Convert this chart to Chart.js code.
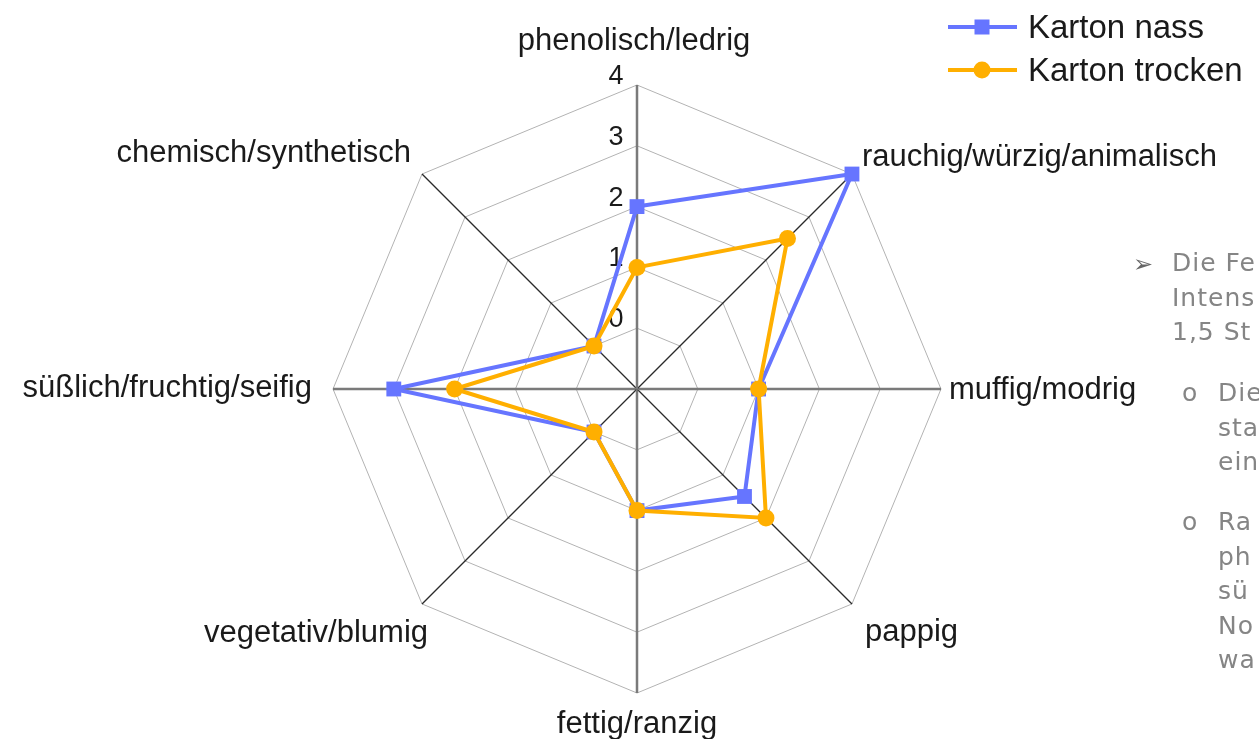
<!DOCTYPE html>
<html>
<head>
<meta charset="utf-8">
<title>Karton nass / trocken</title>
<script src="https://cdn.jsdelivr.net/npm/chart.js@4.4.1/dist/chart.umd.min.js"></script>
<style>
  body { margin: 0; background: #fff; }
  #wrap { position: relative; width: 1259px; height: 739px; overflow: hidden; }
  #canvasRadar { position: absolute; left: 0; top: 0; }
  .note { position: absolute; font-family: "DejaVu Sans", Verdana, sans-serif; font-size: 25px; letter-spacing: 1px; line-height: 34.6px; color: #858585; white-space: nowrap; }
</style>
</head>
<body>
<div id="wrap">
  <canvas id="canvasRadar" width="1259" height="739"></canvas>

  <div class="note" style="left:1133px; top:247px; font-size:24px; letter-spacing:0; color:#666">➢</div>
  <div class="note" style="left:1172px; top:246px">Die Fe<br>Intens<br>1,5 St</div>

  <div class="note" style="left:1182px; top:376px">o</div>
  <div class="note" style="left:1218px; top:376px">Die<br>sta<br>ein</div>

  <div class="note" style="left:1182px; top:505px">o</div>
  <div class="note" style="left:1218px; top:505px">Ra<br>ph<br>sü<br>No<br>wa</div>
</div>

<script>
(() => {

//----- Variables -----//

    const categories = [
        'phenolisch/ledrig',
        'rauchig/würzig/animalisch',
        'muffig/modrig',
        'pappig',
        'fettig/ranzig',
        'vegetativ/blumig',
        'süßlich/fruchtig/seifig',
        'chemisch/synthetisch'
    ]

    const kartonNass = [2, 4, 1, 1.5, 1, 0, 3, 0]
    const kartonTrocken = [1, 2.5, 1, 2, 1, 0, 2, 0]

    const tickValues = [0, 1, 2, 3, 4]
    const scaleMin = -1
    const scaleMax = 4

    const blue = '#6675ff'
    const orange = '#ffaf00'
    const textFont = '"Liberation Sans", Arial, sans-serif'

    // where each category label sits, relative to the outer corner of its axis
    const labelPlace = [
        { align: 'center', dx: -3, dy: -35 },
        { align: 'left', dx: 10, dy: -8 },
        { align: 'left', dx: 8, dy: 10 },
        { align: 'left', dx: 13, dy: 37 },
        { align: 'center', dx: 0, dy: 40 },
        { align: 'right', dx: 6, dy: 38 },
        { align: 'right', dx: -21, dy: 8 },
        { align: 'right', dx: -11, dy: -12 }
    ]

//----- Plugin: tick labels, category labels, legend -----//

    const radarText = {
        id: 'radarText',
        beforeDatasetsDraw(chart) {
            const r = chart.scales.r
            const ctx = chart.ctx
            ctx.save()
            ctx.font = '27px ' + textFont
            ctx.fillStyle = '#1a1a1a'
            ctx.textAlign = 'center'
            ctx.textBaseline = 'alphabetic'
            tickValues.forEach((v) => {
                ctx.fillText(String(v), r.xCenter - 21, r.yCenter - r.getDistanceFromCenterForValue(v) - 1)
            })
            ctx.restore()
        },
        afterDraw(chart) {
            const r = chart.scales.r
            const ctx = chart.ctx
            ctx.save()
            ctx.font = '31px ' + textFont
            ctx.fillStyle = '#1a1a1a'
            ctx.textBaseline = 'alphabetic'
            chart.data.labels.forEach((label, i) => {
                const pos = r.getPointPosition(i, r.drawingArea)
                const p = labelPlace[i]
                ctx.textAlign = p.align
                ctx.fillText(label, pos.x + p.dx, pos.y + p.dy)
            })

            // legend, top right
            const legendY = [27, 70]
            ctx.font = '33px ' + textFont
            ctx.textAlign = 'left'
            chart.data.datasets.forEach((ds, i) => {
                const y = legendY[i]
                ctx.strokeStyle = ds.borderColor
                ctx.lineWidth = 4
                ctx.beginPath()
                ctx.moveTo(948, y)
                ctx.lineTo(1017, y)
                ctx.stroke()
                ctx.fillStyle = ds.borderColor
                if (ds.pointStyle === 'rect') {
                    ctx.fillRect(982 - 7.5, y - 7.5, 15, 15)
                } else {
                    ctx.beginPath()
                    ctx.arc(982, y, 8.5, 0, Math.PI * 2)
                    ctx.fill()
                }
                ctx.fillStyle = '#1a1a1a'
                ctx.fillText(ds.label, 1028, y + 10.5)
            })
            ctx.restore()
        }
    }

//----- Create Chart -----//

    const data = {
        labels: categories,
        datasets: [
            {
                label: 'Karton nass',
                data: kartonNass,
                borderColor: blue,
                backgroundColor: blue,
                borderWidth: 4,
                pointStyle: 'rect',
                pointRadius: 10.5,
                pointBorderWidth: 0,
                pointBackgroundColor: blue,
                fill: false,
                order: 1
            },
            {
                label: 'Karton trocken',
                data: kartonTrocken,
                borderColor: orange,
                backgroundColor: orange,
                borderWidth: 4,
                pointStyle: 'circle',
                pointRadius: 8.5,
                pointBorderWidth: 0,
                pointBackgroundColor: orange,
                fill: false,
                order: 0
            }
        ]
    }

    const myRadar = new Chart(
        document.getElementById('canvasRadar'), {
            type: 'radar',
            data: data,
            plugins: [radarText],
            options: {
                responsive: false,
                animation: false,
                events: [],
                layout: {
                    padding: { top: 85, bottom: 46, left: 333, right: 318 }
                },
                elements: {
                    line: { tension: 0 }
                },
                plugins: {
                    legend: { display: false },
                    tooltip: { enabled: false }
                },
                scales: {
                    r: {
                        min: scaleMin,
                        max: scaleMax,
                        ticks: { display: false, stepSize: 1 },
                        pointLabels: { display: false },
                        grid: { color: '#b3b3b3', lineWidth: 1 },
                        angleLines: {
                            color: (ctx) => ctx.index % 2 ? '#2a2a2a' : '#7a7a7a',
                            lineWidth: (ctx) => ctx.index % 2 ? 1.3 : 2.5
                        }
                    }
                }
            }
        }
    )

})();
</script>
</body>
</html>
